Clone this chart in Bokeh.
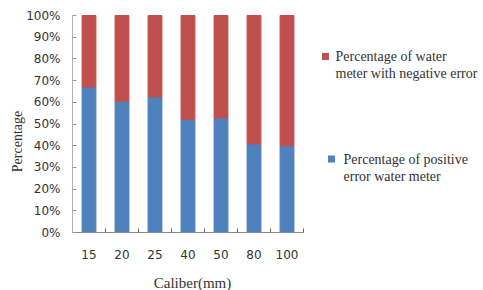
import math
from bokeh.plotting import figure
from bokeh.models import (FixedTicker, NumeralTickFormatter, Label, LinearAxis,
                          Range1d, ColumnDataSource)
from bokeh.embed import file_html
from bokeh.resources import INLINE

calibers = ["15", "20", "25", "40", "50", "80", "100"]
positive = [0.67, 0.605, 0.625, 0.52, 0.528, 0.408, 0.40]
negative = [0.33, 0.395, 0.375, 0.48, 0.472, 0.592, 0.60]
y_ticks = [0.0, 0.1, 0.2, 0.3, 0.4, 0.5, 0.6, 0.7, 0.8, 0.9, 1.0]
series_names = ["Percentage of water\nmeter with negative error",
                "Percentage of positive\nerror water meter"]
x_title = "Caliber(mm)"
y_title = "Percentage"

BLUE = "#4F81BD"
RED = "#C0504D"

n = len(calibers)
xs = list(range(n))
src = ColumnDataSource(dict(x=xs, pos=positive, neg=negative))

# pixel layout of the plotting area inside the picture
W, H = 483, 290
AX_LEFT, AX_ZERO, AX_TOP = 72, 232, 15
PX_PER_CAT = 33.0
PX_PER_UNIT = AX_ZERO - AX_TOP


def px_x(px):
    return -0.5 + (px - AX_LEFT) / PX_PER_CAT


def px_y(py):
    return (AX_ZERO - py) / PX_PER_UNIT


p = figure(width=W, height=H, output_backend="svg", toolbar_location=None,
           x_range=Range1d(px_x(0), px_x(W)), y_range=Range1d(px_y(H), px_y(0)),
           x_axis_location=None, y_axis_location=None, min_border=0)
p.outline_line_color = None
p.xgrid.visible = False
p.ygrid.visible = False

p.vbar_stack(["pos", "neg"], x="x", width=0.42, color=[BLUE, RED], source=src)

# x axis drawn at y = 0
xa = LinearAxis(fixed_location=0)
xa.bounds = (-0.5, n - 0.5)
xa.ticker = FixedTicker(ticks=xs, minor_ticks=[i - 0.5 for i in range(n + 1)])
xa.major_label_overrides = {i: c for i, c in enumerate(calibers)}
xa.major_tick_in = 0
xa.major_tick_out = 0
xa.minor_tick_in = 4
xa.minor_tick_out = 0
xa.minor_tick_line_color = "#666666"
xa.axis_line_color = "#888888"
xa.major_label_text_font = "DejaVu Sans"
xa.major_label_text_font_size = "12px"
xa.major_label_text_color = "#333333"
xa.major_label_standoff = 17
p.add_layout(xa, "below")

# y axis drawn at the left edge of the categories
ya = LinearAxis(fixed_location=-0.5)
ya.bounds = (0, 1)
ya.ticker = FixedTicker(ticks=y_ticks)
ya.formatter = NumeralTickFormatter(format="0%")
ya.major_tick_in = 4
ya.major_tick_out = 0
ya.minor_tick_line_color = None
ya.major_tick_line_color = "#999999"
ya.axis_line_color = "#b0b0b0"
ya.major_label_text_font = "DejaVu Sans"
ya.major_label_text_font_size = "12px"
ya.major_label_text_color = "#333333"
ya.major_label_standoff = 12
p.add_layout(ya, "left")

p.add_layout(Label(x=px_x(192), y=px_y(282), text=x_title,
                   text_align="center", text_baseline="middle",
                   text_font="Liberation Serif", text_font_size="15px", text_color="#333333"))
p.add_layout(Label(x=px_x(17), y=px_y(141), text=y_title,
                   angle=math.pi / 2, text_align="center", text_baseline="middle",
                   text_font="Liberation Serif", text_font_size="14px", text_color="#333333"))

# legend (swatch + two text lines per series), positions in pixels of the picture
legend_layout = [
    (RED, series_names[0], 325, 56, 335),
    (BLUE, series_names[1], 331, 158.5, 343),
]
for color, name, sq_px, y_px, tx_px in legend_layout:
    p.scatter(x=[px_x(sq_px)], y=[px_y(y_px)], marker="square", size=7,
              fill_color=color, line_color=None)
    for k, line in enumerate(name.split("\n")):
        p.add_layout(Label(x=px_x(tx_px), y=px_y(y_px + 17 * k), text=line,
                           text_align="left", text_baseline="middle",
                           text_font="Liberation Serif", text_font_size="14px",
                           text_color="#333333"))

open("out.html", "w").write(file_html(p, INLINE))
